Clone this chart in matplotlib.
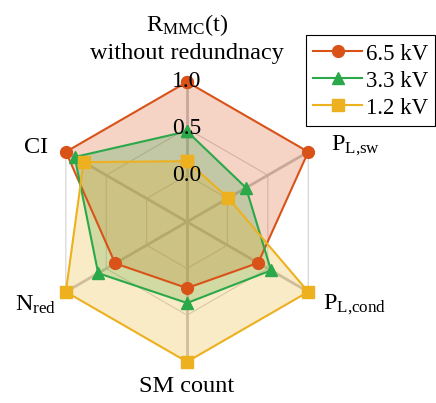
import numpy as np
import matplotlib.pyplot as plt

plt.rcParams['font.family'] = ['Liberation Serif', 'DejaVu Serif']
plt.rcParams['mathtext.fontset'] = 'custom'
plt.rcParams['mathtext.rm'] = 'Liberation Serif'

axis_labels = ["$\\mathregular{R_{MMC}}$(t)\nwithout redundnacy",
               "$\\mathregular{P_{L{,}sw}}$",
               "$\\mathregular{P_{L{,}cond}}$",
               "SM count",
               "$\\mathregular{N_{red}}$",
               "CI"]
series_names = ["6.5 kV", "3.3 kV", "1.2 kV"]
v65 = [1.0, 1.0, 0.38, 0.21, 0.39, 1.0]
v33 = [0.47, 0.23, 0.54, 0.37, 0.60, 0.89]
v12 = [0.15, 0.01, 1.0, 1.0, 1.0, 0.78]
rticks = [0.0, 0.5, 1.0]

colors = ["#D95319", "#2BA84A", "#EDB120"]
markers = ["o", "^", "s"]

n = len(axis_labels)
angles = np.linspace(0, 2 * np.pi, n, endpoint=False)
closed = np.concatenate([angles, angles[:1]])

fig = plt.figure(figsize=(4.36, 4.03), dpi=100)
ax = fig.add_axes([0.108, 0.102, 0.642, 0.695], projection="polar")
ax.set_theta_offset(np.pi / 2)
ax.set_theta_direction(-1)
ax.set_ylim(-0.5, 1.0)
ax.spines["polar"].set_visible(False)
ax.set_xticks(angles)
ax.set_xticklabels([])
ax.set_yticks([])
ax.xaxis.grid(True, color="#c4c4c4", linewidth=2)
ax.yaxis.grid(False)
ax.set_facecolor("none")

# hexagonal grid
for r in rticks:
    ax.plot(closed, [r] * (n + 1), color="#d2d2d2", linewidth=0.8, zorder=1)

handles = []
for name, vals, c, m in zip(series_names, [v65, v33, v12], colors, markers):
    vv = vals + vals[:1]
    ax.fill(closed, vv, color=c, alpha=0.25, zorder=2, linewidth=0)
    h, = ax.plot(closed, vv, color=c, marker=m, markersize=8.5, linewidth=1.5,
                 label=name, zorder=3, clip_on=False)
    handles.append(h)

for r in rticks:
    ax.text(0, r, f"{r:.1f}", ha="center", va="center",
            fontsize=17, zorder=5)

# axis labels
label_pos = [(0, 1.19, "center", "bottom"),
             (np.deg2rad(90 - 27.8), 1.25, "left", "center"),
             (np.deg2rad(90 + 31.4), 1.21, "left", "center"),
             (np.pi, 1.15, "center", "top"),
             (np.deg2rad(237.4), 1.16, "right", "center"),
             (np.deg2rad(298), 1.19, "right", "center")]
for lab, (th, r, ha, va) in zip(axis_labels, label_pos):
    ax.text(th, r, lab, ha=ha, va=va, fontsize=17.5, multialignment="center",
            linespacing=1.3, clip_on=False)

leg = fig.legend(handles=handles, loc="upper right",
                 bbox_to_anchor=(435 / 436, 1 - 35 / 403), fontsize=16.5,
                 fancybox=False, edgecolor="black", framealpha=1,
                 borderaxespad=0, handlelength=2.15, handleheight=0.95,
                 labelspacing=0.2, handletextpad=0.15, borderpad=0.3)
leg.get_frame().set_linewidth(0.8)

fig.savefig("out.png", dpi=100)
